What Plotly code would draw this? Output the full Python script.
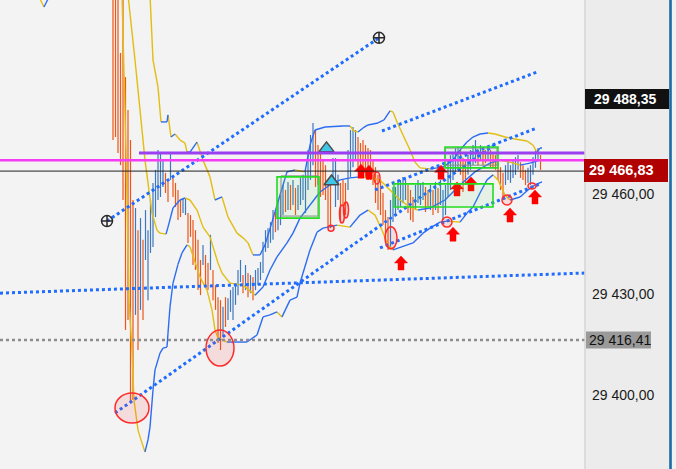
import plotly.graph_objects as go

# ---------------- data ----------------
bar_high = [29520.9, 29520.9, 29520.9, 29502.1, 29517.9, 29494.9, 29485.1, 29476.1, 29458.2, 29455.8,
            29449.2, 29452.8, 29446.3, 29455.2, 29449.2, 29458.2, 29463.3, 29467.2, 29473.1, 29472.5,
            29470.1, 29466.3, 29464.2, 29472.5, 29464.8, 29463.3, 29461.2, 29458.2, 29458.8, 29458.8,
            29454.3, 29453.7, 29452.2, 29449.2, 29446.3, 29440.3, 29444.8, 29441.8, 29439.4, 29447.8,
            29437.3, 29432.8, 29429.2, 29428.3, 29426.3, 29429.2, 29428.9, 29431.3, 29432.2, 29433.4,
            29437.3, 29440.3, 29435.8, 29438.8, 29436.4, 29435.8, 29435.2, 29437.3, 29437.9, 29439.7,
            29445.7, 29449.2, 29449.8, 29451.6, 29455.2, 29454.6, 29458.2, 29459.7, 29462.7, 29461.2,
            29463.6, 29462.7, 29464.2, 29461.8, 29462.7, 29464.8, 29465.7, 29466.6, 29473.1, 29477.6,
            29481.2, 29479.1, 29474.6, 29472.2, 29470.1, 29468.6, 29464.2, 29464.2, 29470.7, 29470.7,
            29465.7, 29463.3, 29464.2, 29463.3, 29473.1, 29479.1, 29480.0, 29479.1, 29477.0, 29475.2,
            29476.1, 29474.6, 29473.7, 29473.1, 29470.1, 29468.0, 29465.7, 29464.2, 29460.3, 29455.2,
            29453.1, 29458.2, 29462.1, 29462.1, 29464.2, 29464.2, 29465.1, 29464.2, 29462.7, 29461.2,
            29459.1, 29462.7, 29464.2, 29463.3, 29463.6, 29462.1, 29461.2, 29462.7, 29461.2, 29463.6,
            29461.8, 29464.2, 29461.2, 29462.7, 29470.1, 29471.6, 29472.5, 29473.7, 29474.0, 29473.1,
            29470.7, 29470.1, 29471.6, 29473.1, 29474.6, 29476.1, 29473.1, 29474.6, 29473.7, 29473.1,
            29473.7, 29473.1, 29472.5, 29471.6, 29470.1, 29468.0, 29466.3, 29468.6, 29470.1, 29468.6,
            29470.1, 29471.0, 29471.6, 29469.5, 29468.6, 29467.2, 29467.8, 29468.6, 29471.0, 29473.1,
            29473.7, 29471.6]
bar_low = [29476.1, 29477.0, 29472.2, 29468.6, 29458.2, 29419.4, 29422.4, 29397.6, 29398.5, 29423.9,
           29413.4, 29425.4, 29422.4, 29440.3, 29428.3, 29442.4, 29444.2, 29453.1, 29458.2, 29459.1,
           29462.1, 29460.3, 29457.6, 29464.2, 29459.1, 29456.1, 29452.2, 29453.1, 29454.3, 29453.7,
           29445.4, 29447.2, 29438.8, 29437.3, 29431.3, 29429.8, 29438.8, 29432.8, 29431.3, 29437.3,
           29428.3, 29425.4, 29415.5, 29413.4, 29417.3, 29420.3, 29422.4, 29424.8, 29422.4, 29426.9,
           29429.8, 29433.7, 29430.4, 29431.3, 29429.2, 29430.4, 29428.3, 29431.3, 29432.8, 29434.3,
           29436.4, 29442.7, 29443.9, 29445.4, 29446.3, 29448.6, 29449.2, 29450.7, 29453.7, 29454.6,
           29455.2, 29455.2, 29456.7, 29453.7, 29455.2, 29456.7, 29458.2, 29454.3, 29461.2, 29464.2,
           29468.6, 29462.1, 29462.7, 29459.1, 29459.7, 29458.2, 29450.1, 29449.8, 29463.3, 29456.1,
           29458.2, 29451.3, 29456.7, 29453.7, 29461.2, 29465.1, 29468.0, 29470.1, 29468.0, 29468.0,
           29466.3, 29465.1, 29464.2, 29464.2, 29462.7, 29457.3, 29455.2, 29453.7, 29450.7, 29446.3,
           29443.3, 29444.2, 29451.6, 29453.7, 29455.2, 29456.1, 29457.3, 29458.2, 29454.3, 29452.2,
           29451.6, 29455.2, 29457.3, 29456.7, 29458.2, 29454.6, 29456.1, 29455.2, 29453.7, 29455.2,
           29454.3, 29456.7, 29452.2, 29453.7, 29459.1, 29461.2, 29464.2, 29466.6, 29467.2, 29465.7,
           29460.6, 29462.7, 29465.7, 29467.2, 29468.6, 29469.2, 29468.6, 29470.1, 29468.6, 29469.2,
           29470.1, 29467.8, 29468.0, 29467.2, 29464.2, 29461.2, 29458.8, 29462.7, 29464.2, 29463.3,
           29464.8, 29465.7, 29467.2, 29464.8, 29464.2, 29462.7, 29463.3, 29462.7, 29465.7, 29467.8,
           29470.1, 29467.2]
bar_dir = list("DDDDDDDDDU" "DUDUUUUUUU" "UDDUDDDDUU" "DDDDDDUDDU" "DDDDUDUUUU"
               "UUDUDUDUUU" "UUUUUDUUUD" "UDUDUUUUUU" "UDDDDDDDUU" "UDDDUUUUDD"
               "DDDDDDDDDD" "DUUUUUUUDD" "DUUUUDDUDU" "DUUUUUUUUD" "DDUUUUDUDD"
               "UDDDDDDUUU" "UUUDDDUUUU" "UD")

upper_tail_t = [-30.0, -27.6, -25.2]
upper_tail_v = [29519.4, 29515.8, 29519.4]
upper_t = [14.8, 16.0, 18.0, 19.2, 21.6, 22.0, 23.2, 24.8, 26.8, 28.8, 29.6, 30.8, 33.6, 36.0, 38.8,
           40.8, 43.6, 46.0, 49.6, 52.0, 54.0, 56.0, 58.8, 60.8, 63.6, 66.8, 69.6, 72.8, 76.8, 78.8,
           80.8, 84.8, 92.0, 94.8, 96.4, 98.0, 100.0, 102.0, 106.0, 108.4, 110.8, 112.0, 113.6, 116.0,
           118.8, 120.8, 122.8, 126.8, 132.0, 136.0, 138.8, 141.6, 144.0, 146.8, 150.0, 152.8, 156.8,
           160.8, 165.6, 168.0, 169.6, 170.8, 171.6]
upper_v = [29519.4, 29500.0, 29491.9, 29481.5, 29481.5, 29483.6, 29477.0, 29477.9, 29476.1, 29475.2,
           29472.5, 29472.5, 29475.5, 29470.1, 29465.1, 29458.2, 29459.1, 29453.1, 29448.3, 29446.9,
           29445.4, 29441.8, 29441.8, 29444.8, 29451.6, 29459.7, 29466.6, 29467.2, 29466.6, 29474.6,
           29479.1, 29480.0, 29480.3, 29480.3, 29478.8, 29478.5, 29479.7, 29480.6, 29481.2, 29482.1,
           29484.8, 29484.5, 29481.5, 29477.6, 29473.1, 29469.5, 29467.8, 29467.5, 29468.0, 29470.1,
           29473.1, 29475.5, 29477.0, 29477.9, 29478.2, 29477.9, 29477.0, 29476.4, 29475.8, 29474.6,
           29472.5, 29473.7, 29473.7]
middle_t = [6.0, 8.8, 10.8, 12.8, 15.6, 17.6, 18.8, 21.2, 22.0, 24.0, 26.8, 28.8, 30.8, 33.6, 36.0,
            38.8, 42.0, 43.6, 46.8, 52.0, 56.8, 60.0, 62.8, 65.6, 69.6, 72.0, 74.8, 78.8, 82.8, 86.8,
            90.8, 94.8, 98.8, 102.8, 106.8, 110.8, 114.8, 118.8, 122.0, 126.8, 132.8, 138.8, 144.8,
            150.8, 154.8, 158.8, 162.8, 166.8, 170.8]
middle_v = [29519.4, 29500.0, 29485.1, 29470.1, 29454.3, 29449.2, 29448.3, 29448.0, 29450.1, 29455.8,
            29458.2, 29458.8, 29458.2, 29455.2, 29450.1, 29447.2, 29439.4, 29436.4, 29433.4, 29432.8,
            29429.8, 29432.2, 29437.3, 29441.2, 29445.4, 29448.3, 29452.8, 29456.7, 29460.6, 29462.7,
            29464.2, 29464.8, 29465.1, 29464.8, 29464.2, 29461.2, 29458.2, 29456.1, 29455.2, 29455.8,
            29458.2, 29462.7, 29466.6, 29469.2, 29470.1, 29469.5, 29468.6, 29469.2, 29470.1]
lower_t = [3.6, 5.2, 6.4, 7.6, 8.4, 10.0, 11.2, 12.8, 14.0, 14.8, 16.0, 16.8, 18.8, 20.0, 21.6, 22.0,
           22.8, 24.0, 26.0, 27.6, 29.6, 30.8, 32.8, 34.8, 37.6, 39.6, 40.8, 42.0, 44.0, 45.6, 53.6,
           57.6, 60.0, 62.8, 65.6, 67.6, 70.8, 73.6, 74.8, 78.8, 81.6, 84.0, 89.6, 94.8, 98.8, 102.0,
           104.8, 107.6, 110.0, 112.0, 120.0, 124.0, 126.8, 130.8, 133.6, 138.8, 141.6, 144.0, 146.8,
           149.6, 152.0, 154.0, 156.8, 158.8, 162.8, 166.0, 168.8, 171.6]
lower_v = [29519.4, 29473.1, 29428.3, 29413.4, 29398.5, 29389.5, 29386.6, 29383.0, 29386.6, 29390.4,
           29401.5, 29407.5, 29412.5, 29414.0, 29414.3, 29418.5, 29426.3, 29433.4, 29439.0, 29442.4,
           29444.8, 29444.2, 29439.7, 29435.2, 29431.3, 29425.4, 29419.4, 29417.0, 29416.4, 29415.8,
           29415.8, 29417.9, 29423.3, 29423.9, 29424.8, 29423.3, 29428.3, 29429.2, 29433.4, 29443.3,
           29448.6, 29449.8, 29450.7, 29450.1, 29453.7, 29455.2, 29453.7, 29449.2, 29444.8, 29443.3,
           29445.4, 29448.3, 29449.8, 29451.6, 29451.9, 29451.6, 29454.3, 29456.1, 29460.3, 29464.2,
           29465.7, 29464.2, 29459.7, 29458.2, 29459.1, 29461.2, 29462.7, 29463.6]

trend_lines = [  # (t0, v0, t1, v1)
    (-2.4, 29451.9, 106.4, 29506.6),
    (-45.2, 29430.4, 188.8, 29436.4),
    (0.8, 29394.6, 153.6, 29475.2),
    (107.6, 29478.8, 169.6, 29496.4),
    (104.8, 29461.2, 169.6, 29479.7),
    (106.8, 29443.9, 170.8, 29463.0),
]
anchor_t = [-2.4, 106.4]
anchor_v = [29451.9, 29506.6]

level_purple = 29472.2
level_magenta = 29470.1
last_price = 29466.83
level_high = 29488.35
level_low = 29416.41

cyan_t = [85.4, 87.4]
cyan_v = [29473.6, 29463.7]
arrow_t = [115.2, 136.0, 158.8, 168.8, 137.6, 143.2, 131.2, 99.2, 102.4]
arrow_v = [29441.5, 29450.1, 29455.8, 29461.2, 29463.6, 29465.1, 29468.6, 29468.9, 29468.6]
ellipse_t = [7.6, 42.8, 87.2, 91.6, 93.2, 105.6, 111.2, 133.6, 157.6, 167.6]
ellipse_v = [29396.1, 29414.0, 29449.8, 29454.0, 29455.2, 29464.8, 29446.9, 29451.6, 29458.2, 29462.4]
ellipse_rpx = [(17, 15), (14, 18), (3, 3), (2.5, 9), (2.5, 8), (3, 6), (6, 11), (5, 5), (5, 5), (4, 3)]
box_t = [(65.6, 82.4), (112.4, 152.0), (132.8, 154.0)]
box_v = [(29452.8, 29465.1), (29456.1, 29463.0), (29467.8, 29474.0)]
gray_box_t = [(67.2, 82.0), (132.8, 153.6)]
gray_box_v = [(29453.4, 29465.4), (29468.6, 29473.7)]

tick_vals = [29400, 29430, 29460]
tick_text = ["29 400,00", "29 430,00", "29 460,00"]

# ---------------- style / scale helpers ----------------
X_RANGE = [-45.2, 188.8]
Y_RANGE = [29377.9, 29517.9]
PLOT_W = 585
PX_T = PLOT_W / (X_RANGE[1] - X_RANGE[0])
PX_V = 469 / (Y_RANGE[1] - Y_RANGE[0])
UP_C = "#3d78bf"
DN_C = "#ee5516"
BAND_UP = "#2c6cf2"
BAND_DN = "#e2bd12"
TREND_C = "#1f6cff"

fig = go.Figure()

# bars
ux, uy, dx, dy = [], [], [], []
for i, (h, l, d) in enumerate(zip(bar_high, bar_low, bar_dir)):
    if d == "U":
        ux += [i, i, None]; uy += [l, h, None]
    else:
        dx += [i, i, None]; dy += [l, h, None]
fig.add_trace(go.Scatter(x=ux, y=uy, mode="lines", line=dict(color=UP_C, width=1.2), hoverinfo="skip"))
fig.add_trace(go.Scatter(x=dx, y=dy, mode="lines", line=dict(color=DN_C, width=1.2), hoverinfo="skip"))


def slope_split(ts, vs):
    a_x, a_y, b_x, b_y = [], [], [], []
    for k in range(len(ts) - 1):
        if vs[k + 1] >= vs[k]:
            a_x += [ts[k], ts[k + 1], None]; a_y += [vs[k], vs[k + 1], None]
        else:
            b_x += [ts[k], ts[k + 1], None]; b_y += [vs[k], vs[k + 1], None]
    return a_x, a_y, b_x, b_y


for ts, vs in [(upper_tail_t, upper_tail_v), (upper_t, upper_v), (middle_t, middle_v), (lower_t, lower_v)]:
    a_x, a_y, b_x, b_y = slope_split(ts, vs)
    fig.add_trace(go.Scatter(x=b_x, y=b_y, mode="lines", line=dict(color=BAND_DN, width=1.4), hoverinfo="skip"))
    fig.add_trace(go.Scatter(x=a_x, y=a_y, mode="lines", line=dict(color=BAND_UP, width=1.4), hoverinfo="skip"))

# trend lines
for (t0, v0, t1, v1) in trend_lines:
    fig.add_trace(go.Scatter(x=[t0, t1], y=[v0, v1], mode="lines",
                             line=dict(color=TREND_C, width=3, dash="dot"), hoverinfo="skip"))

fig.add_trace(go.Scatter(x=anchor_t, y=anchor_v, mode="markers",
                         marker=dict(symbol="circle-cross-open", size=11, color="#2a2a2a",
                                     line=dict(width=1.5, color="#2a2a2a")), hoverinfo="skip"))

# red up arrows
ax, ay = [], []
for t, v in zip(arrow_t, arrow_v):
    pts = [(0, 0), (6.5, 7), (3, 7), (3, 14), (-3, 14), (-3, 7), (-6.5, 7), (0, 0)]
    for (px, py) in pts:
        ax.append(t + px / PX_T); ay.append(v - py / PX_V)
    ax.append(None); ay.append(None)
fig.add_trace(go.Scatter(x=ax, y=ay, mode="lines", fill="toself", fillcolor="#ff0000",
                         line=dict(color="#ff0000", width=0.5), hoverinfo="skip"))

fig.add_trace(go.Scatter(x=cyan_t, y=cyan_v, mode="markers",
                         marker=dict(symbol="triangle-up", size=13, color="#3cc6e8",
                                     line=dict(width=1.5, color="#4a4a4a")), hoverinfo="skip"))

shapes = []
# gray thin boxes
for (t0, t1), (v0, v1) in zip(gray_box_t, gray_box_v):
    shapes.append(dict(type="rect", xref="x", yref="y", x0=t0, x1=t1, y0=v0, y1=v1,
                       line=dict(color="#8a8a8a", width=1), fillcolor="rgba(0,0,0,0)", layer="above"))
# green boxes
for (t0, t1), (v0, v1) in zip(box_t, box_v):
    shapes.append(dict(type="rect", xref="x", yref="y", x0=t0, x1=t1, y0=v0, y1=v1,
                       line=dict(color="#22dd22", width=1.6), fillcolor="rgba(60,220,60,0.08)", layer="above"))
# ellipses
for t, v, (rx, ry) in zip(ellipse_t, ellipse_v, ellipse_rpx):
    shapes.append(dict(type="circle", xref="x", yref="y", x0=t - rx / PX_T, x1=t + rx / PX_T,
                       y0=v - ry / PX_V, y1=v + ry / PX_V, line=dict(color="#ff2a2a", width=1.5),
                       fillcolor="rgba(255,60,60,0.12)", layer="above"))
# horizontal levels
shapes.append(dict(type="line", xref="x", yref="y", x0=10.4, x1=X_RANGE[1], y0=level_purple, y1=level_purple,
                   line=dict(color="#9b3ff2", width=3)))
shapes.append(dict(type="line", xref="paper", yref="y", x0=0, x1=1, y0=level_magenta, y1=level_magenta,
                   line=dict(color="#f53cf5", width=2.5)))
shapes.append(dict(type="line", xref="paper", yref="y", x0=0, x1=1, y0=last_price, y1=last_price,
                   line=dict(color="#202020", width=1)))
shapes.append(dict(type="line", xref="paper", yref="y", x0=0, x1=1, y0=level_low, y1=level_low,
                   line=dict(color="#8c8c8c", width=2.5, dash="dot")))
# axis panel decorations
shapes.append(dict(type="line", xref="paper", yref="paper", x0=1.0, x1=1.0, y0=0, y1=1,
                   line=dict(color="#d6d6d6", width=1.5)))
shapes.append(dict(type="rect", xref="paper", yref="paper", x0=672 / PLOT_W, x1=680 / PLOT_W, y0=0, y1=1,
                   line=dict(width=0), fillcolor="#f1f1f1"))
shapes.append(dict(type="line", xref="paper", yref="paper", x0=670.5 / PLOT_W, x1=670.5 / PLOT_W, y0=0, y1=1,
                   line=dict(color="#1c6aa6", width=2.6)))
# price label boxes
box_h = 10 / PX_V
shapes.append(dict(type="rect", xref="paper", yref="y", x0=1.0, x1=669 / PLOT_W,
                   y0=level_high - box_h, y1=level_high + box_h, line=dict(width=0), fillcolor="#111111"))
shapes.append(dict(type="rect", xref="paper", yref="y", x0=584 / PLOT_W, x1=668 / PLOT_W,
                   y0=last_price - 11 / PX_V, y1=last_price + 12 / PX_V, line=dict(width=0), fillcolor="#b00000"))
shapes.append(dict(type="rect", xref="paper", yref="y", x0=586 / PLOT_W, x1=651 / PLOT_W,
                   y0=level_low - 8.5 / PX_V, y1=level_low + 8.5 / PX_V, line=dict(width=0), fillcolor="#9a9a9a"))


def fmt(v):
    s = f"{v:,.2f}"
    return s.replace(",", " ").replace(".", ",")


annotations = [
    dict(xref="paper", yref="y", x=592 / PLOT_W, y=level_high, text=fmt(level_high), showarrow=False,
         xanchor="left", yanchor="middle", font=dict(color="white", size=14, family="Liberation Sans", weight="bold")),
    dict(xref="paper", yref="y", x=587 / PLOT_W, y=last_price + 1 / PX_V, text=fmt(last_price), showarrow=False,
         xanchor="left", yanchor="middle", font=dict(color="white", size=14.5, family="Liberation Sans", weight="bold")),
    dict(xref="paper", yref="y", x=587 / PLOT_W, y=level_low, text=fmt(level_low), showarrow=False,
         xanchor="left", yanchor="middle", font=dict(color="#111111", size=14, family="Liberation Sans")),
]

fig.update_layout(
    width=676, height=469, margin=dict(l=0, r=676 - PLOT_W, t=0, b=0),
    paper_bgcolor="#ececec", plot_bgcolor="#f3f3f3", showlegend=False,
    xaxis=dict(range=X_RANGE, visible=False, showgrid=False, zeroline=False),
    yaxis=dict(range=Y_RANGE, side="right", tickvals=tick_vals, ticktext=tick_text, showgrid=False,
               zeroline=False, ticks="", ticklabelstandoff=6,
               tickfont=dict(size=14, color="#1a1a1a", family="Liberation Sans")),
    shapes=shapes, annotations=annotations,
)

fig.write_html("out.html", config={"displayModeBar": False},
               post_script="document.body.style.margin='0';document.body.style.overflow='hidden';")
